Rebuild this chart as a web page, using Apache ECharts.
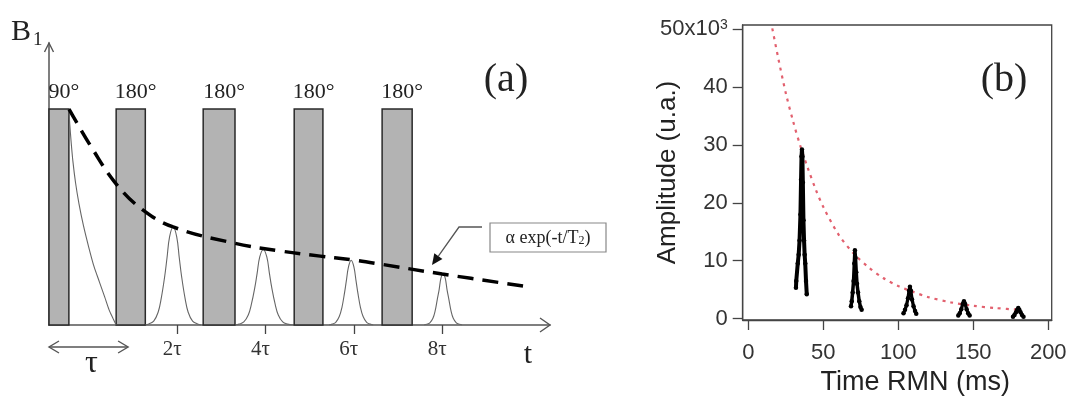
<!DOCTYPE html>
<html><head><meta charset="utf-8">
<script src="https://cdn.jsdelivr.net/npm/echarts@6/dist/echarts.min.js"></script>
<style>html,body{margin:0;padding:0;background:#fff}#c{width:1072px;height:401px}</style>
</head><body><div id="c"></div>
<script>
// ---------- Panel (a): CPMG sequence, x in units of tau, y relative to pulse height ----------
const pulseLabels = ['90°', '180°', '180°', '180°', '180°'];
const pulseStart  = [-0.90, 0.62, 2.59, 4.65, 6.64];
const pulseEnd    = [-0.45, 1.28, 3.31, 5.30, 7.32];
const pulseHeight = [1, 1, 1, 1, 1];

const fidT = [-0.45, -0.43, -0.40, -0.36, -0.30, -0.22, -0.12, 0.0, 0.12, 0.24, 0.36, 0.46, 0.55, 0.62];
const fidA = [1.0, 0.93, 0.85, 0.76, 0.66, 0.56, 0.46, 0.36, 0.27, 0.20, 0.13, 0.07, 0.03, 0.0];

const echo2T = [1.28, 1.36, 1.47, 1.57, 1.64, 1.72, 1.77, 1.83, 1.91, 1.99, 2.05, 2.10, 2.18, 2.25, 2.35, 2.46, 2.54];
const echo2A = [0, 0.005, 0.018, 0.059, 0.123, 0.227, 0.309, 0.409, 0.454, 0.409, 0.309, 0.227, 0.123, 0.059, 0.018, 0.005, 0];
const echo4T = [3.32, 3.40, 3.51, 3.61, 3.68, 3.76, 3.81, 3.87, 3.95, 4.03, 4.09, 4.14, 4.22, 4.29, 4.39, 4.50, 4.62];
const echo4A = [0, 0.004, 0.014, 0.046, 0.095, 0.175, 0.238, 0.315, 0.35, 0.315, 0.238, 0.175, 0.095, 0.046, 0.014, 0.004, 0];
const echo6T = [5.44, 5.51, 5.59, 5.67, 5.73, 5.79, 5.83, 5.88, 5.94, 6.00, 6.05, 6.09, 6.15, 6.21, 6.29, 6.37, 6.44];
const echo6A = [0, 0.004, 0.012, 0.039, 0.081, 0.15, 0.204, 0.27, 0.30, 0.27, 0.204, 0.15, 0.081, 0.039, 0.012, 0.004, 0];
const echo8T = [7.59, 7.65, 7.72, 7.79, 7.84, 7.89, 7.93, 7.97, 8.02, 8.07, 8.11, 8.15, 8.20, 8.25, 8.32, 8.39, 8.45];
const echo8A = [0, 0.003, 0.01, 0.031, 0.065, 0.12, 0.163, 0.216, 0.24, 0.216, 0.163, 0.12, 0.065, 0.031, 0.01, 0.003, 0];

const envT = [-0.447, 0.1, 0.64, 1.23, 1.91, 3.27, 4.33, 5.24, 5.98, 6.6, 8.0, 9.99];
const envA = [1.0, 0.81, 0.648, 0.532, 0.454, 0.38, 0.343, 0.319, 0.301, 0.282, 0.236, 0.176];

const tauTickValues = [2, 4, 6, 8];
const tauTickLabels = ['2τ', '4τ', '6τ', '8τ'];

// ---------- Panel (b): measured echoes (ms, x10^3 u.a.) ----------
const timeTicks = [0, 50, 100, 150, 200];
const ampTicks = [0, 10, 20, 30, 40, 50];
const ampTickLabels = ['0', '10', '20', '30', '40', '50x10'];

const b1T = [31.8, 32.0, 33.0, 33.6, 34.2, 34.8, 35.2, 35.5, 35.8, 36.1, 36.4, 36.8, 37.2, 37.6, 38.0, 38.5, 39.0];
const b1A = [5.3, 6.5, 9.5, 11.0, 13.5, 18.0, 24.0, 28.0, 29.2, 28.0, 23.5, 17.0, 13.5, 11.0, 9.5, 6.5, 4.2];
const b2T = [68.5, 69.0, 69.6, 70.2, 70.7, 71.1, 71.5, 72.0, 72.5, 73.2, 74.0, 74.8, 75.6];
const b2A = [2.1, 3.0, 4.5, 6.5, 9.5, 11.8, 10.5, 8.0, 6.0, 4.5, 3.0, 2.0, 1.5];
const b3T = [103.5, 104.5, 105.5, 106.5, 107.2, 107.8, 108.4, 109.2, 110.2, 111.2, 112.0];
const b3A = [0.9, 1.5, 2.3, 3.5, 4.8, 5.5, 4.8, 3.3, 2.1, 1.3, 0.8];
const b4T = [140.0, 141.0, 142.0, 143.0, 143.8, 144.6, 145.6, 146.6, 147.6];
const b4A = [0.5, 0.9, 1.6, 2.5, 3.0, 2.5, 1.6, 0.9, 0.5];
const b5T = [176.5, 177.5, 178.5, 179.3, 180.0, 180.7, 181.5, 182.5, 183.5];
const b5A = [0.3, 0.6, 1.1, 1.5, 1.8, 1.5, 1.1, 0.6, 0.3];

const fitT = [15, 20, 25, 30, 35, 40, 45, 50, 60, 70, 80, 90, 100, 110, 120, 135, 150, 165, 182];
const fitA = [51.5, 45.0, 39.0, 34.0, 29.6, 25.8, 22.3, 19.3, 14.6, 11.3, 8.9, 7.0, 5.6, 4.6, 3.7, 2.8, 2.2, 1.8, 1.5];

// ---------------------------------------------------------------
const SERIF = '"Liberation Serif", "Times New Roman", serif';
const SANS = '"Liberation Sans", Arial, sans-serif';
const zip = (a, b) => a.map((v, i) => [v, b[i]]);

const xMinA = -0.90, xMaxA = 10.44, yMaxA = 1.306;
const xMinB = -3.7, xMaxB = 202.3, yMinB = -0.26, yMaxB = 50.74;

const chart = echarts.init(document.getElementById('c'));

const thinLine = (t, a, sm) => ({
  type: 'line', xAxisIndex: 0, yAxisIndex: 0, data: zip(t, a), symbol: 'none',
  smooth: sm, lineStyle: { color: '#666', width: 1.1 }, z: 3, silent: true
});
const echoB = (t, a, w) => ({
  type: 'line', xAxisIndex: 1, yAxisIndex: 1, data: zip(t, a), symbol: 'circle', symbolSize: 4.5,
  itemStyle: { color: '#000' }, lineStyle: { color: '#000', width: w }, z: 4, silent: true
});

const option = {
  animation: false,
  grid: [
    { left: 49, top: 43, width: 501, height: 282, show: false },
    { left: 742.7, top: 25, width: 309, height: 297, show: true, borderColor: '#444', borderWidth: 1.3 }
  ],
  xAxis: [
    {
      gridIndex: 0, type: 'value', min: xMinA, max: xMaxA,
      axisLine: { show: true, onZero: false, lineStyle: { color: '#555', width: 1.5 } },
      axisTick: { show: true, customValues: tauTickValues, length: 9, lineStyle: { color: '#444', width: 1.3 } },
      axisLabel: {
        customValues: tauTickValues, margin: 14,
        formatter: v => tauTickLabels[tauTickValues.indexOf(v)],
        fontFamily: SERIF, fontSize: 21, color: '#333', padding: [0, 10, 0, 0]
      },
      splitLine: { show: false }
    },
    {
      gridIndex: 1, type: 'value', min: xMinB, max: xMaxB,
      axisLine: { show: true, onZero: false, lineStyle: { color: '#444', width: 1.3 } },
      axisTick: { show: true, customValues: timeTicks, length: 10, lineStyle: { color: '#444', width: 1.3 } },
      axisLabel: { customValues: timeTicks, margin: 22, fontFamily: SANS, fontSize: 22, color: '#333' },
      splitLine: { show: false },
      name: 'Time RMN (ms)', nameLocation: 'middle', nameGap: 49, nameMoveOverlap: false,
      nameTextStyle: { fontFamily: SANS, fontSize: 27, color: '#222', padding: [0, 0, 0, 36] }
    }
  ],
  yAxis: [
    {
      gridIndex: 0, type: 'value', min: 0, max: yMaxA,
      axisLine: { show: true, onZero: false, lineStyle: { color: '#555', width: 1.5 } },
      axisTick: { show: false }, axisLabel: { show: false }, splitLine: { show: false }
    },
    {
      gridIndex: 1, type: 'value', min: yMinB, max: yMaxB,
      axisLine: { show: true, onZero: false, lineStyle: { color: '#444', width: 1.3 } },
      axisTick: { show: true, customValues: ampTicks, length: 10, lineStyle: { color: '#444', width: 1.3 } },
      axisLabel: {
        customValues: ampTicks, margin: 15, fontFamily: SANS, fontSize: 22, color: '#333',
        formatter: v => {
          const s = ampTickLabels[ampTicks.indexOf(v)];
          return v === 50 ? '{m|' + s + '}{s|3}' : s;
        },
        rich: {
          m: { fontFamily: SANS, fontSize: 22, color: '#333' },
          s: { fontFamily: SANS, fontSize: 14, color: '#333', verticalAlign: 'top', padding: [0, 0, 8, 0] }
        }
      },
      splitLine: { show: false },
      name: 'Amplitude (u.a.)', nameLocation: 'middle', nameGap: 62, nameMoveOverlap: false,
      nameTextStyle: { fontFamily: SANS, fontSize: 26, color: '#222' }
    }
  ],
  series: [
    {
      type: 'custom', xAxisIndex: 0, yAxisIndex: 0, z: 2, silent: true,
      data: pulseStart.map((s, i) => [s, pulseEnd[i], pulseHeight[i], i]),
      encode: { x: [0, 1], y: 2 },
      renderItem: (params, api) => {
        const p0 = api.coord([api.value(0), 0]);
        const p1 = api.coord([api.value(1), api.value(2)]);
        const idx = api.value(3);
        return {
          type: 'group', children: [
            { type: 'rect', shape: { x: p0[0], y: p1[1], width: p1[0] - p0[0], height: p0[1] - p1[1] },
              style: { fill: '#b3b3b3', stroke: '#2a2a2a', lineWidth: 1.5 } },
            { type: 'text', style: { text: pulseLabels[idx], x: (p0[0] + p1[0]) / 2 + 5, y: p1[1] - 17,
              align: 'center', verticalAlign: 'middle', fontFamily: SERIF, fontSize: 22, fill: '#222' } }
          ]
        };
      }
    },
    thinLine(fidT, fidA, 0.25),
    thinLine(echo2T, echo2A, 0.4),
    thinLine(echo4T, echo4A, 0.4),
    thinLine(echo6T, echo6A, 0.4),
    thinLine(echo8T, echo8A, 0.4),
    {
      type: 'line', xAxisIndex: 0, yAxisIndex: 0, data: zip(envT, envA), symbol: 'none', smooth: 0.4,
      lineStyle: { color: '#000', width: 3.5, type: [16, 9] }, z: 5, silent: true
    },
    {
      type: 'line', xAxisIndex: 1, yAxisIndex: 1, data: zip(fitT, fitA), symbol: 'none', smooth: 0.3,
      lineStyle: { color: '#e2606e', width: 2.2, type: [3, 5] }, z: 3, silent: true, clip: true
    },
    echoB(b1T, b1A, 4), echoB(b2T, b2A, 3.5), echoB(b3T, b3A, 3.3), echoB(b4T, b4A, 3.3), echoB(b5T, b5A, 3.3)
  ]
};
chart.setOption(option);

// ---------- annotations ----------
const px = v => chart.convertToPixel({ gridIndex: 0 }, v);
const topA = px([xMinA, yMaxA]);
const endA = px([xMinA, 0]);
const rightA = px([xMaxA, 0]);
const tauEnd = px([0.89, 0]);
const ARROW = { stroke: '#555', lineWidth: 1.4, fill: null };
const tauY = endA[1] + 22;

function arrowHead(tail, tip, len, half) {
  const dx = tip[0] - tail[0], dy = tip[1] - tail[1];
  const L = Math.hypot(dx, dy), ux = dx / L, uy = dy / L;
  const bx = tip[0] - len * ux, by = tip[1] - len * uy;
  return [tip, [bx + half * uy, by - half * ux], [bx - half * uy, by + half * ux]];
}
const leadStart = [482, 227], leadCorner = [459, 227], leadTip = [432, 265];
const head = arrowHead(leadCorner, leadTip, 11, 5);

chart.setOption({
  graphic: [
    { type: 'polyline', shape: { points: [[topA[0] - 4.5, topA[1] + 9], topA, [topA[0] + 4.5, topA[1] + 9]] }, style: ARROW },
    { type: 'polyline', shape: { points: [[rightA[0] - 10, rightA[1] - 7], rightA, [rightA[0] - 10, rightA[1] + 7]] }, style: ARROW },
    { type: 'polyline', shape: { points: [[endA[0], tauY], [tauEnd[0], tauY]] }, style: ARROW },
    { type: 'polyline', shape: { points: [[endA[0] + 10, tauY - 6], [endA[0], tauY], [endA[0] + 10, tauY + 6]] }, style: ARROW },
    { type: 'polyline', shape: { points: [[tauEnd[0] - 10, tauY - 6], [tauEnd[0], tauY], [tauEnd[0] - 10, tauY + 6]] }, style: ARROW },
    { type: 'text', x: (endA[0] + tauEnd[0]) / 2 + 3, y: tauY + 17,
      style: { text: 'τ', fontFamily: SERIF, fontSize: 32, fill: '#222', align: 'center', verticalAlign: 'middle' } },
    { type: 'text', x: 11, y: 17, style: { text: 'B', fontFamily: SERIF, fontSize: 30, fill: '#222' } },
    { type: 'text', x: 33, y: 31, style: { text: '1', fontFamily: SERIF, fontSize: 19, fill: '#222' } },
    { type: 'text', x: 528, y: 355, style: { text: 't', fontFamily: SERIF, fontSize: 30, fill: '#222', align: 'center', verticalAlign: 'middle' } },
    { type: 'text', x: 506, y: 80, style: { text: '(a)', fontFamily: SERIF, fontSize: 40, fill: '#222', align: 'center', verticalAlign: 'middle' } },
    { type: 'text', x: 1004, y: 80, style: { text: '(b)', fontFamily: SERIF, fontSize: 40, fill: '#222', align: 'center', verticalAlign: 'middle' } },
    { type: 'rect', shape: { x: 490, y: 223, width: 116, height: 29 }, style: { fill: '#fff', stroke: '#888', lineWidth: 1.2 }, z: 10 },
    { type: 'text', x: 548, y: 238, z: 11,
      style: { text: 'α exp(-t/T{s|2})', fontFamily: SERIF, fontSize: 18, fill: '#222', align: 'center', verticalAlign: 'middle',
        rich: { s: { fontFamily: SERIF, fontSize: 12, fill: '#222', verticalAlign: 'bottom', padding: [6, 0, 0, 0] } } } },
    { type: 'polyline', z: 10, shape: { points: [leadStart, leadCorner, [(head[1][0] + head[2][0]) / 2, (head[1][1] + head[2][1]) / 2]] },
      style: { stroke: '#555', lineWidth: 1.3, fill: null } },
    { type: 'polygon', z: 10, shape: { points: head }, style: { fill: '#111' } }
  ]
});
</script>
</body></html>
